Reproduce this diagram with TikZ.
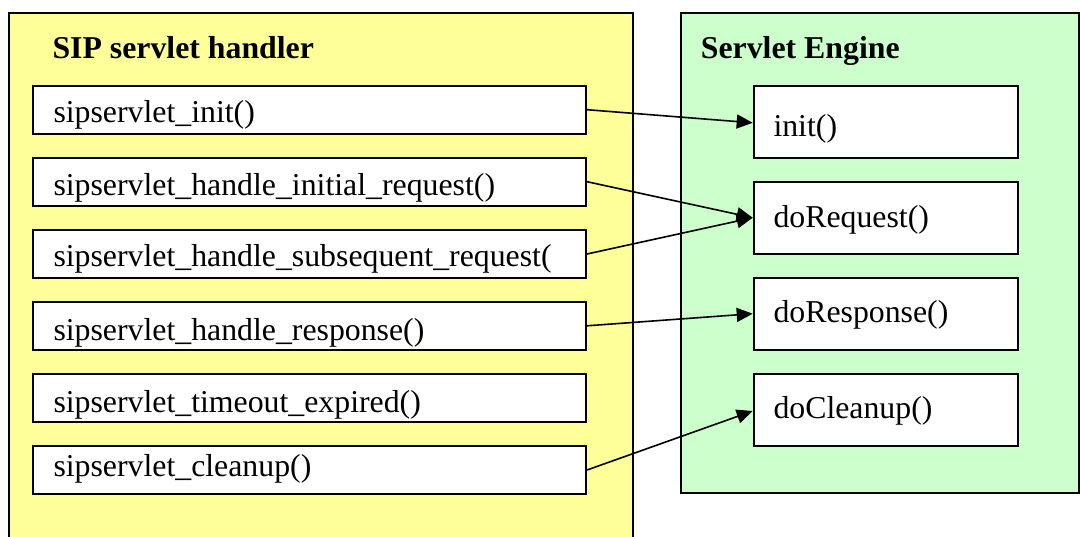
\documentclass[tikz,border=0pt]{standalone}
\usepackage{fontspec}
\setmainfont{Liberation Serif}[BoldFont={Liberation Serif Bold}]
\newfontfamily\labelserif{Liberation Serif}[BoldFont={Liberation Serif Bold}]
\usetikzlibrary{arrows.meta}
\definecolor{handlerbg}{HTML}{FFFF99}
\definecolor{enginebg}{HTML}{CCFFCC}

\begin{document}
\begin{tikzpicture}[x=1pt,y=-1pt,
  panel/.style={draw=black, line width=2pt},
  fnbox/.style={draw=black, fill=white, line width=2pt, inner sep=0pt, anchor=north west},
  handlerfn/.style={fnbox, minimum width=552.7pt, minimum height=48pt},
  enginefn/.style={fnbox, minimum width=264.6pt, minimum height=72pt},
  fntext/.style={anchor=base west, inner sep=0pt, font=\labelserif\fontsize{31.8}{36}\selectfont},
  paneltitle/.style={anchor=base west, inner sep=0pt, font=\labelserif\fontsize{31.8}{36}\selectfont\bfseries},
  call/.style={-{Triangle[length=16pt,width=14pt]}, line width=1.6pt}]

\useasboundingbox (0,0) rectangle (1080,536);
\clip (0,0) rectangle (1080,536);
\fill[white] (0,0) rectangle (1080,536);

% panels
\draw[panel, fill=handlerbg] (9,12.5) rectangle (632.7,548);
\draw[panel, fill=enginebg] (680.7,12.5) rectangle (1079,492.7);
\node[paneltitle] (htitle) at (52.3,58) {SIP servlet handler};
\node[paneltitle] (etitle) at (700.7,58) {Servlet Engine};

% handler functions
\node[handlerfn] (h1) at (32.3,84.7) {};
\node[handlerfn] (h2) at (32.3,156.7) {};
\node[handlerfn] (h3) at (32.3,229) {};
\node[handlerfn] (h4) at (32.3,300.8) {};
\node[handlerfn] (h5) at (32.3,372.8) {};
\node[handlerfn] (h6) at (32.3,445) {};
\node[fntext] (t1) at (53.3,122.7) {sipservlet\_init()};
\node[fntext] (t2) at (53.3,195) {sipservlet\_handle\_initial\_request()};
\node[fntext] (t3) at (53.3,266.7) {sipservlet\_handle\_subsequent\_request(};
\node[fntext] (t4) at (53.3,340) {sipservlet\_handle\_response()};
\node[fntext] (t5) at (53.3,412) {sipservlet\_timeout\_expired()};
\node[fntext] (t6) at (53.3,476.7) {sipservlet\_cleanup()};

% engine methods
\node[enginefn] (e1) at (752.7,84.8) {};
\node[enginefn] (e2) at (752.7,180.7) {};
\node[enginefn] (e3) at (752.7,276.7) {};
\node[enginefn] (e4) at (752.7,372.7) {};
\node[fntext] (u1) at (773.3,136) {init()};
\node[fntext] (u2) at (773.3,227.5) {doRequest()};
\node[fntext] (u3) at (773.3,322.5) {doResponse()};
\node[fntext] (u4) at (773.3,418.8) {doCleanup()};

% calls from handler to engine
\draw[call] (h1.east) -- ([yshift=-1pt]e1.west);
\draw[call] (h2.east) -- (e2.west);
\draw[call] (h3.east) -- (e2.west);
\draw[call] (h4.east) -- (e3.west);
\draw[call] (h6.east) -- ([yshift=-1.3pt]e4.west);
\end{tikzpicture}
\end{document}
